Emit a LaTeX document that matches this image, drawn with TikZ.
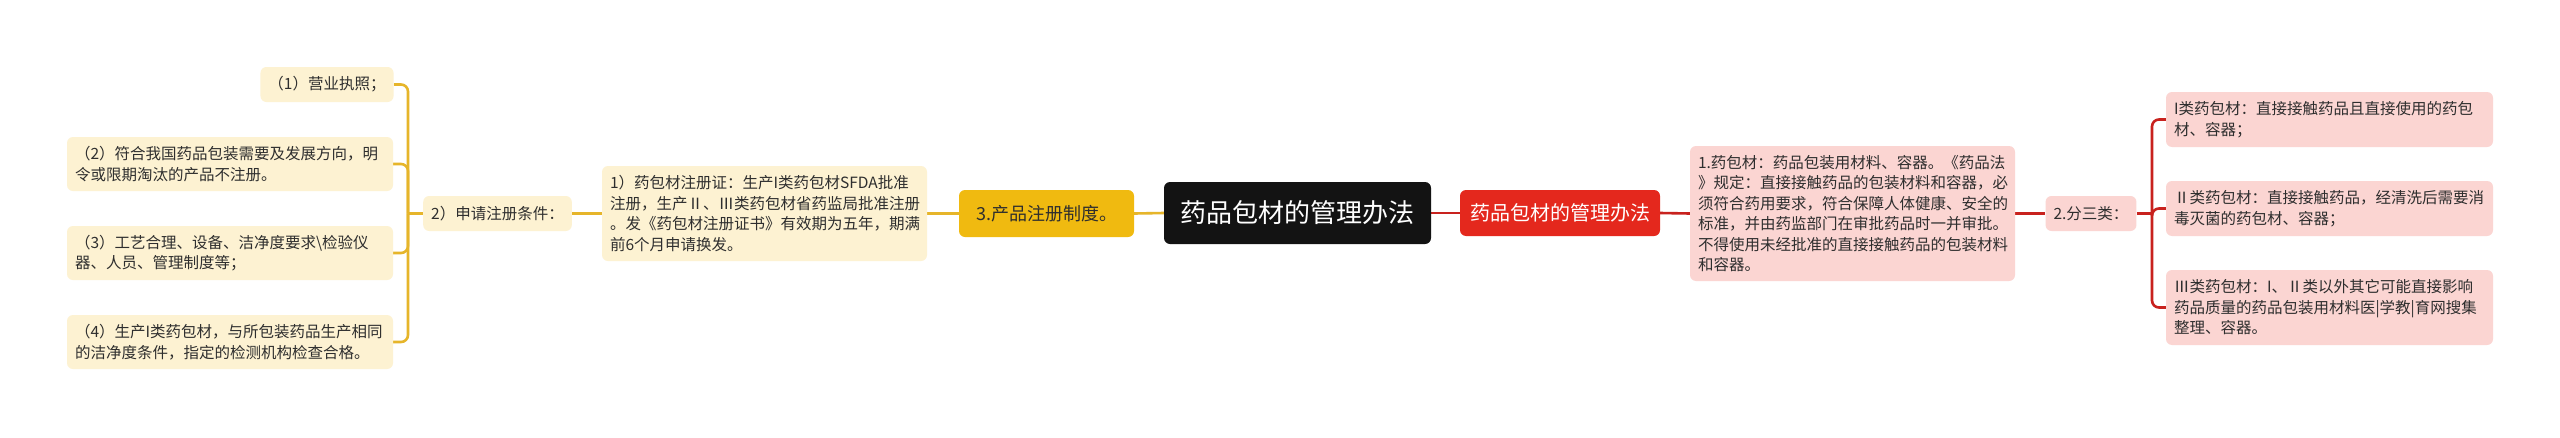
\documentclass[tikz,border=0pt]{standalone}
\usepackage{fontspec}
\setmainfont{Noto Sans CJK SC}
\usetikzlibrary{backgrounds}
\definecolor{yline}{HTML}{E6B52A}
\definecolor{ylight}{HTML}{FDF2D2}
\definecolor{ygold}{HTML}{F0BA10}
\definecolor{rline}{HTML}{C8221E}
\definecolor{rnode}{HTML}{E4281D}
\definecolor{pinkbox}{HTML}{FBD5D2}
\definecolor{rootc}{HTML}{131313}
\definecolor{txt}{HTML}{2E2E2E}
\tikzset{
  box/.style={rounded corners=6pt, inner xsep=8pt, inner ysep=0pt, align=left,
    font=\fontsize{15.5}{20.5}\selectfont, text=txt, anchor=center},
  ybox/.style={box, fill=ylight},
  pbox/.style={box, fill=pinkbox},
  yconn/.style={draw=yline, line width=2.6pt},
  rconn/.style={draw=rline, line width=2.6pt},
}
\begin{document}
\begin{tikzpicture}[x=1pt,y=-1pt]
\useasboundingbox (0,0) rectangle (2560,437);
% root
\node[box, fill=rootc, text=white, font=\fontsize{26}{30}\selectfont, align=center,
  minimum width=267pt, minimum height=62pt] (root) at (1297.5,213) {药品包材的管理办法};
% left side
\node[box, fill=ygold, font=\fontsize{18}{22}\selectfont, align=center,
  minimum width=175pt, minimum height=47pt] (n3) at (1046.5,213.5) {3.产品注册制度。};
\node[ybox, minimum width=325pt, minimum height=95pt, text width=309pt] (b1) at (764.5,213.5)
  {1）药包材注册证：生产I类药包材SFDA批准\\注册，生产Ⅱ、Ⅲ类药包材省药监局批准注册\\。发《药包材注册证书》有效期为五年，期满\\前6个月申请换发。};
\node[ybox, align=center, minimum width=147pt, minimum height=35pt] (p2) at (497.5,213.5) {2）申请注册条件：};
\node[ybox, align=center, minimum width=132pt, minimum height=35pt] (l1) at (327,84.5) {（1）营业执照；};
\node[ybox, minimum width=326pt, minimum height=54pt, text width=310pt] (l2) at (230,164)
  {（2）符合我国药品包装需要及发展方向，明\\令或限期淘汰的产品不注册。};
\node[ybox, minimum width=326pt, minimum height=54pt, text width=310pt] (l3) at (230,253)
  {（3）工艺合理、设备、洁净度要求{\textbackslash}检验仪\\器、人员、管理制度等；};
\node[ybox, minimum width=326pt, minimum height=54pt, text width=310pt] (l4) at (230,342)
  {（4）生产I类药包材，与所包装药品生产相同\\的洁净度条件，指定的检测机构检查合格。};
% right side
\node[box, fill=rnode, text=white, font=\fontsize{20}{24}\selectfont, align=center,
  minimum width=200pt, minimum height=46pt] (red) at (1560,213) {药品包材的管理办法};
\node[pbox, minimum width=325pt, minimum height=135pt, text width=309pt] (r1) at (1852.5,213.5)
  {1.药包材：药品包装用材料、容器。《药品法\\》规定：直接接触药品的包装材料和容器，必\\须符合药用要求，符合保障人体健康、安全的\\标准，并由药监部门在审批药品时一并审批。\\不得使用未经批准的直接接触药品的包装材料\\和容器。};
\node[pbox, align=center, minimum width=90pt, minimum height=35pt] (r2) at (2091,213.5) {2.分三类：};
\node[pbox, minimum width=327pt, minimum height=55pt, text width=311pt] (c1) at (2329.5,119.5)
  {I类药包材：直接接触药品且直接使用的药包\\材、容器；};
\node[pbox, minimum width=327pt, minimum height=55pt, text width=311pt] (c2) at (2329.5,208.5)
  {Ⅱ类药包材：直接接触药品，经清洗后需要消\\毒灭菌的药包材、容器；};
\node[pbox, minimum width=327pt, minimum height=75pt, text width=311pt] (c3) at (2329.5,307.5)
  {Ⅲ类药包材：I、Ⅱ类以外其它可能直接影响\\药品质量的药品包装用材料医|学教|育网搜集\\整理、容器。};
\coordinate (lj) at (408,213.5);
\coordinate (rj) at (2152,213.5);
\begin{scope}[on background layer]
\fill[white] (0,0) rectangle (2560,437);
\draw[yconn] (root.west) -- (n3.east);
\draw[yconn] (n3.west) -- (b1.east);
\draw[yconn] (b1.west) -- (p2.east);
\draw[yconn] (p2.west) -- (lj);
\foreach \c in {l1,l2,l3,l4} \draw[yconn, rounded corners=7pt] (lj) |- (\c.east);
\draw[rconn] (root.east) -- (red.west);
\draw[rconn] (red.east) -- (r1.west);
\draw[rconn] (r1.east) -- (r2.west);
\draw[rconn] (r2.east) -- (rj);
\foreach \c in {c1,c2,c3} \draw[rconn, rounded corners=7pt] (rj) |- (\c.west);
\end{scope}
\end{tikzpicture}
\end{document}
